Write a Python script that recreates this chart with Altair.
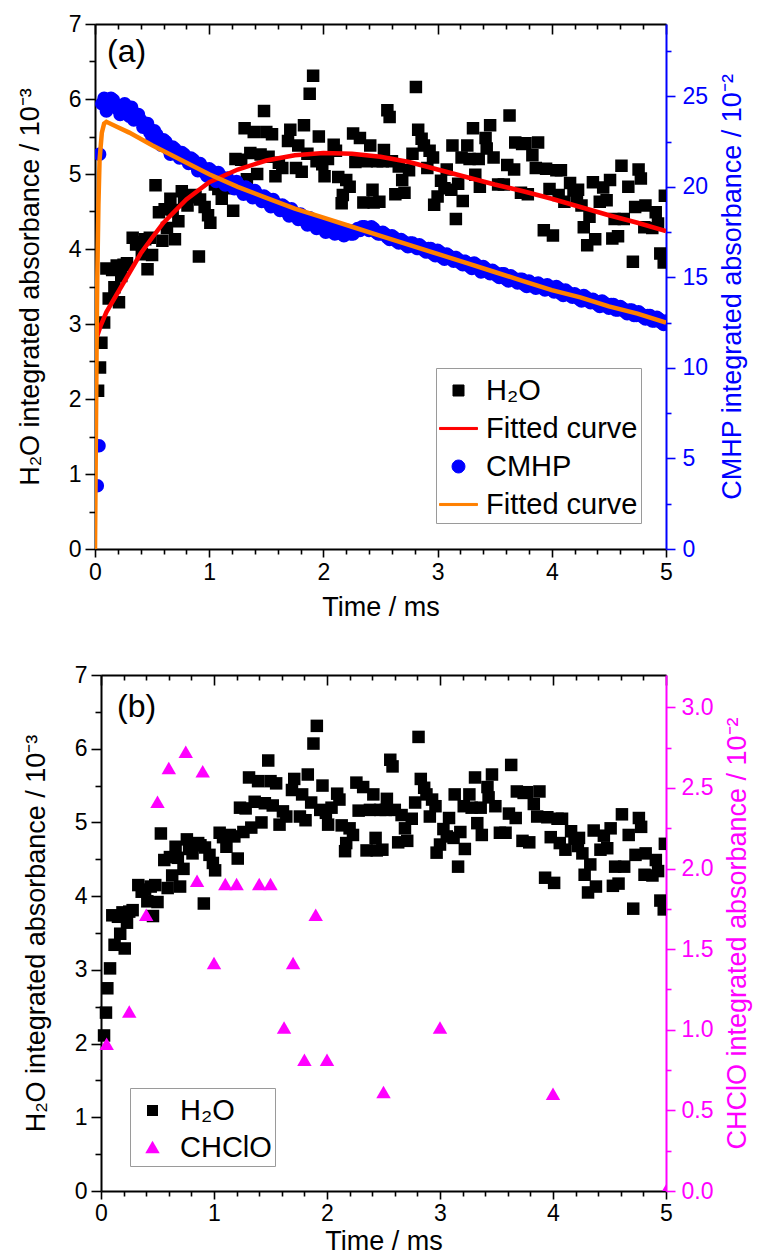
import altair as alt
import pandas as pd

# ---------------- text ----------------
time_title = "Time / ms"
h2o_title = "H₂O integrated absorbance / 10⁻³"
cmhp_title = "CMHP integrated absorbance / 10⁻²"
chclo_title = "CHClO integrated absorbance / 10⁻²"
panel_labels = ["(a)", "(b)"]

# ---------------- data ----------------
h2o_t = [0.027, 0.044, 0.056, 0.08, 0.10, 0.12, 0.15, 0.17, 0.19, 0.21, 0.23, 0.25, 0.28, 0.33, 0.36,
         0.39, 0.41, 0.44, 0.46, 0.48, 0.50, 0.53, 0.56, 0.59, 0.61, 0.63, 0.66, 0.68, 0.70, 0.73,
         0.76, 0.78, 0.81, 0.86, 0.88, 0.91, 0.92, 0.96, 0.99, 1.01, 1.05, 1.08, 1.11, 1.14, 1.18,
         1.21, 1.23, 1.26, 1.28, 1.31, 1.33, 1.36, 1.39, 1.42, 1.45, 1.48, 1.50, 1.52, 1.55, 1.58,
         1.61, 1.64, 1.69, 1.71, 1.76, 1.78, 1.81, 1.83, 1.86, 1.88, 1.91, 1.94, 1.96, 1.99, 2.01,
         2.04, 2.09, 2.11, 2.13, 2.16, 2.17, 2.20, 2.23, 2.26, 2.28, 2.32, 2.35, 2.38, 2.41, 2.43,
         2.44, 2.47, 2.49, 2.52, 2.53, 2.56, 2.58, 2.60, 2.63, 2.66, 2.69, 2.71, 2.75, 2.78, 2.81,
         2.83, 2.86, 2.88, 2.91, 2.93, 2.96, 2.97, 3.00, 3.03, 3.06, 3.08, 3.12, 3.13, 3.16, 3.18,
         3.21, 3.22, 3.26, 3.28, 3.31, 3.33, 3.36, 3.37, 3.42, 3.43, 3.46, 3.49, 3.53, 3.58, 3.61,
         3.63, 3.67, 3.68, 3.73, 3.74, 3.77, 3.79, 3.83, 3.86, 3.88, 3.93, 3.95, 3.98, 4.01, 4.04,
         4.06, 4.08, 4.11, 4.16, 4.19, 4.22, 4.23, 4.26, 4.28, 4.31, 4.33, 4.36, 4.38, 4.42, 4.45,
         4.48, 4.51, 4.53, 4.55, 4.58, 4.61, 4.63, 4.67, 4.71, 4.73, 4.76, 4.78, 4.81, 4.82, 4.88,
         4.91, 4.93, 4.95, 4.98, 4.99]
h2o_v = [2.11, 2.42, 2.75, 3.02, 3.74, 3.34, 3.72, 3.49, 3.78, 3.29, 3.64, 3.79, 3.81, 4.15, 4.06,
         4.09, 3.93, 4.13, 3.73, 4.15, 3.92, 4.85, 4.49, 4.11, 4.53, 4.28, 4.67, 4.52, 4.13, 4.37,
         4.77, 4.64, 4.58, 4.72, 4.69, 3.90, 4.66, 4.56, 4.45, 4.35, 4.86, 4.80, 4.67, 4.83, 4.81,
         4.51, 5.20, 4.87, 5.19, 5.61, 4.93, 5.28, 5.56, 5.00, 5.26, 5.84, 5.56, 5.23, 5.53, 4.97,
         5.15, 5.08, 5.44, 5.59, 5.08, 5.38, 5.03, 5.65, 5.27, 6.07, 6.31, 5.17, 5.50, 5.13, 4.97,
         5.20, 5.39, 5.31, 4.96, 4.61, 4.72, 4.92, 4.83, 5.54, 5.16, 5.48, 4.62, 5.17, 5.38, 4.79,
         4.62, 5.17, 4.63, 5.17, 5.32, 5.85, 5.76, 5.17, 4.73, 5.10, 4.92, 4.75, 5.05, 5.27, 6.16,
         5.59, 5.47, 5.38, 5.08, 5.31, 5.22, 4.59, 4.70, 4.91, 4.81, 5.06, 4.79, 5.38, 4.40, 4.87,
         5.22, 4.64, 5.38, 5.20, 5.61, 4.99, 5.20, 4.83, 5.48, 5.34, 5.65, 5.22, 4.86, 4.86, 5.12,
         5.78, 5.06, 5.42, 4.75, 5.40, 5.41, 4.73, 5.25, 5.08, 5.42, 4.25, 5.07, 4.80, 4.18, 5.05,
         4.72, 5.05, 4.63, 4.88, 4.78, 4.68, 4.79, 4.58, 4.29, 4.05, 4.43, 4.89, 4.13, 4.63, 4.82,
         4.65, 4.92, 4.14, 4.40, 4.17, 5.11, 4.40, 4.83, 3.83, 4.56, 5.06, 4.94, 4.29, 4.58, 4.28,
         4.49, 4.34, 3.94, 3.82, 4.71]

h2o_fit_t = [0.0, 0.05, 0.1, 0.2, 0.3, 0.4, 0.5, 0.6, 0.8, 1.0, 1.25, 1.5, 1.75, 2.0, 2.25, 2.5,
             2.75, 3.0, 3.25, 3.5, 3.75, 4.0, 4.25, 4.5, 4.75, 5.0]
h2o_fit_v = [2.75, 2.98, 3.16, 3.42, 3.68, 3.94, 4.15, 4.35, 4.66, 4.89, 5.06, 5.18, 5.25, 5.28,
             5.27, 5.23, 5.16, 5.06, 4.96, 4.86, 4.77, 4.67, 4.56, 4.45, 4.35, 4.24]

cmhp_t = [0.02, 0.035, 0.04, 0.08, 0.12, 0.16, 0.20, 0.24, 0.28, 0.32, 0.36, 0.40,
          0.44, 0.48, 0.52, 0.56, 0.60, 0.64, 0.68, 0.72, 0.76, 0.80,
          0.84, 0.88, 0.92, 0.96, 1.00, 1.04, 1.08, 1.12, 1.16, 1.20,
          1.24, 1.28, 1.32, 1.36, 1.40, 1.44, 1.48, 1.52, 1.56, 1.60,
          1.64, 1.68, 1.72, 1.76, 1.80, 1.84, 1.88, 1.92, 1.96, 2.00,
          2.04, 2.08, 2.12, 2.16, 2.20, 2.24, 2.28, 2.32, 2.36, 2.40,
          2.44, 2.48, 2.52, 2.56, 2.60, 2.64, 2.68, 2.72, 2.76, 2.80,
          2.84, 2.88, 2.92, 2.96, 3.00, 3.04, 3.08, 3.12, 3.16, 3.20,
          3.24, 3.28, 3.32, 3.36, 3.40, 3.44, 3.48, 3.52, 3.56, 3.60,
          3.64, 3.68, 3.72, 3.76, 3.80, 3.84, 3.88, 3.92, 3.96, 4.00,
          4.04, 4.08, 4.12, 4.16, 4.20, 4.24, 4.28, 4.32, 4.36, 4.40,
          4.44, 4.48, 4.52, 4.56, 4.60, 4.64, 4.68, 4.72, 4.76, 4.80,
          4.84, 4.88, 4.92, 4.96, 5.00,
          0.06, 0.10, 0.14, 0.18, 0.22, 0.26, 0.30, 0.34, 0.38, 0.42, 0.46, 0.50,
          0.54, 0.58, 0.62, 0.66, 0.70, 0.74, 0.78, 0.82, 0.86, 0.90, 0.94, 0.98,
          1.02, 1.06, 1.10, 1.14, 1.18, 1.22, 1.26, 1.30, 1.34, 1.38, 1.42, 1.46, 1.50,
          1.54, 1.58, 1.62, 1.66, 1.70, 1.74, 1.78, 1.82, 1.86, 1.90, 1.94, 1.98,
          2.02, 2.06, 2.10, 2.14, 2.18, 2.22, 2.26, 2.30, 2.34, 2.38, 2.42, 2.46, 2.50,
          2.54, 2.58, 2.62, 2.66, 2.70, 2.74, 2.78, 2.82, 2.86, 2.90, 2.94, 2.98,
          3.02, 3.06, 3.10, 3.14, 3.18, 3.22, 3.26, 3.30, 3.34, 3.38, 3.42, 3.46, 3.50,
          3.54, 3.58, 3.62, 3.66, 3.70, 3.74, 3.78, 3.82, 3.86, 3.90, 3.94, 3.98,
          4.02, 4.06, 4.10, 4.14, 4.18, 4.22, 4.26, 4.30, 4.34, 4.38, 4.42, 4.46, 4.50,
          4.54, 4.58, 4.62, 4.66, 4.70, 4.74, 4.78, 4.82, 4.86, 4.90, 4.94, 4.98]
cmhp_v = [3.5, 5.7, 21.8, 24.9, 24.6, 24.8, 24.3, 24.5, 24.1, 24.4, 23.8, 23.7,
          23.4, 23.0, 23.1, 22.6, 22.6, 22.1, 22.2, 21.8, 21.9, 21.5,
          21.6, 21.2, 21.3, 20.8, 21.0, 20.6, 20.8, 20.3, 20.5, 20.1,
          20.3, 19.8, 20.0, 19.6, 19.8, 19.4, 19.5, 19.1, 19.3, 18.9,
          19.0, 18.6, 18.8, 18.4, 18.5, 18.1, 18.3, 17.9, 18.0, 17.7,
          17.9, 17.5, 17.7, 17.4, 17.6, 17.4, 17.6, 17.6, 17.8, 17.6,
          17.7, 17.4, 17.5, 17.2, 17.3, 17.0, 17.1, 16.8, 16.9, 16.7,
          16.8, 16.5, 16.6, 16.3, 16.5, 16.1, 16.3, 16.0, 16.1, 15.8,
          15.9, 15.6, 15.8, 15.5, 15.6, 15.3, 15.4, 15.1, 15.2, 14.9,
          15.1, 14.8, 14.9, 14.6, 14.8, 14.5, 14.7, 14.4, 14.6, 14.3,
          14.5, 14.1, 14.3, 14.0, 14.1, 13.8, 14.0, 13.7, 13.8, 13.5,
          13.7, 13.4, 13.5, 13.2, 13.4, 13.1, 13.2, 12.9, 13.1, 12.8,
          12.9, 12.6, 12.8, 12.5, 12.6,
          24.6, 24.2, 24.9, 24.4, 24.0, 24.6, 23.9, 23.7, 24.0, 23.3, 23.5, 22.7,
          22.9, 22.3, 22.5, 21.8, 22.1, 21.6, 21.8, 21.3, 21.5, 20.9, 21.1, 20.6,
          20.9, 20.3, 20.6, 20.1, 20.3, 19.9, 20.1, 19.6, 19.9, 19.4, 19.6, 19.2, 19.4,
          18.9, 19.1, 18.7, 18.9, 18.4, 18.6, 18.2, 18.4, 17.9, 18.1, 17.7, 17.9,
          17.5, 17.8, 17.4, 17.6, 17.3, 17.6, 17.4, 17.7, 17.8, 17.7, 17.8, 17.5, 17.4,
          17.4, 17.1, 17.2, 16.9, 17.0, 16.7, 16.9, 16.6, 16.7, 16.4, 16.6, 16.2,
          16.4, 16.0, 16.2, 15.9, 16.0, 15.7, 15.8, 15.5, 15.7, 15.3, 15.5, 15.2, 15.3,
          15.0, 15.2, 14.8, 15.0, 14.7, 14.9, 14.5, 14.7, 14.4, 14.6, 14.3, 14.5,
          14.2, 14.4, 14.0, 14.2, 13.9, 14.0, 13.7, 13.9, 13.6, 13.7, 13.4, 13.6, 13.3,
          13.5, 13.2, 13.3, 13.0, 13.2, 12.9, 13.0, 12.7, 12.9, 12.6, 12.7, 12.4]

cmhp_fit_t = [0.0, 0.005, 0.01, 0.015, 0.02, 0.03, 0.04, 0.06, 0.08, 0.1, 0.2, 0.3, 0.5, 0.75,
              1.0, 1.25, 1.5, 1.75, 2.0, 2.25, 2.5, 2.75, 3.0, 3.25, 3.5, 3.75, 4.0, 4.25, 4.5,
              4.75, 5.0]
cmhp_fit_v = [0.0, 4.0, 8.0, 12.0, 15.0, 19.0, 21.5, 23.0, 23.5, 23.6, 23.3, 23.0, 22.3, 21.5,
              20.7, 20.0, 19.4, 18.8, 18.3, 17.8, 17.3, 16.8, 16.3, 15.8, 15.3, 14.8, 14.3, 13.9,
              13.4, 13.0, 12.5]

chclo_t = [0.05, 0.25, 0.4, 0.5, 0.6, 0.75, 0.85, 0.9, 1.0, 1.1, 1.2, 1.4, 1.5, 1.62, 1.7, 1.8,
           1.9, 2.0, 2.5, 3.0, 4.0, 5.0]
chclo_v = [0.91, 1.11, 1.71, 2.41, 2.62, 2.72, 1.92, 2.60, 1.41, 1.90, 1.90, 1.90, 1.90, 1.01,
           1.41, 0.81, 1.71, 0.81, 0.61, 1.01, 0.60, 0.0]

series_a = ["H₂O", "Fitted curve (H₂O)", "CMHP", "Fitted curve (CMHP)"]
series_b = ["H₂O", "CHClO"]

# ticks
x_major = [0, 1, 2, 3, 4, 5]
x_minor = [0.2, 0.4, 0.6, 0.8, 1.2, 1.4, 1.6, 1.8, 2.2, 2.4, 2.6, 2.8, 3.2, 3.4, 3.6, 3.8,
           4.2, 4.4, 4.6, 4.8]
yl_major = [0, 1, 2, 3, 4, 5, 6, 7]
yl_minor = [0.5, 1.5, 2.5, 3.5, 4.5, 5.5, 6.5]
cm_major = [0, 5, 10, 15, 20, 25]
cm_minor = [2.5, 7.5, 12.5, 17.5, 22.5, 27.5]
ch_major = [0, 0.5, 1.0, 1.5, 2.0, 2.5, 3.0]
ch_minor = [0.25, 0.75, 1.25, 1.75, 2.25, 2.75]

# ---------------- styles ----------------
FONT = "Liberation Sans"
BLACK = "#000000"
RED = "#FF0000"
BLUE = "#0000FF"
ORANGE = "#FF8000"
MAGENTA = "#FF00FF"

SQUARE = "M-0.29,-0.29H0.29V0.29H-0.29Z"
CIRCLE = "M-0.34,0A0.34,0.34 0 1,0 0.34,0A0.34,0.34 0 1,0 -0.34,0Z"
TRIANGLE = "M0,-0.36L0.38,0.30H-0.38Z"
LINE = "M-1,-0.055H1V0.055H-1Z"

LAB = 23
TIT = 27


def axis(orient, values, tick, labels=False, title=None, color=BLACK, domain=False,
         offset=0, fmt=None, ticks=True, tpad=16, lpad=4):
    kw = dict(orient=orient, values=values, tickSize=tick, tickWidth=1.6, tickColor=color,
              labels=labels, domain=domain, domainColor=color, domainWidth=2, grid=False,
              offset=offset, ticks=ticks, title=title)
    if labels:
        kw.update(labelFont=FONT, labelFontSize=LAB, labelColor=color, labelPadding=lpad,
                  labelFlush=False, labelOverlap=False)
        if fmt:
            kw["format"] = fmt
    if title:
        kw.update(titleFont=FONT, titleFontSize=TIT, titleFontWeight="normal",
                  titleColor=color, titlePadding=tpad)
        if orient == "right":
            kw.update(titleAngle=270, titleBaseline="top")
    return alt.Axis(**kw)


xs_a = alt.Scale(domain=[0, 5], nice=False, zero=False)
xs_b = alt.Scale(domain=[0, 5], range=[6, 571], nice=False, zero=False)
ys_left = alt.Scale(domain=[0, 7], nice=False, zero=False)
ys_cmhp = alt.Scale(domain=[0, 29], nice=False, zero=False)
ys_chclo = alt.Scale(domain=[0, 3.2], nice=False, zero=False)

# ---------------- panel (a) ----------------
df_h2o_a = pd.DataFrame({"t": h2o_t, "v": h2o_v, "series": series_a[0]})
df_h2o_fit = pd.DataFrame({"t": h2o_fit_t, "v": h2o_fit_v, "series": series_a[1]})
df_cmhp = pd.DataFrame({"t": cmhp_t, "v": cmhp_v, "series": series_a[2]})
df_cmhp_fit = pd.DataFrame({"t": cmhp_fit_t, "v": cmhp_fit_v, "series": series_a[3]})

color_a = alt.Scale(domain=series_a, range=[BLACK, RED, BLUE, ORANGE])
shape_a = alt.Scale(domain=series_a, range=[SQUARE, LINE, CIRCLE, LINE])
leg_a = alt.Legend(title=None, orient="none", legendX=341, legendY=344, labelFont=FONT,
                   labelFontSize=29, labelColor=BLACK,
                   labelExpr="indexof(datum.label, 'Fitted') == 0 ? 'Fitted curve' : datum.label",
                   symbolSize=1444, symbolStrokeWidth=1, strokeColor="#9A9A9A",
                   fillColor="#FFFFFF", padding=3, rowPadding=3, labelOffset=8, labelLimit=400)

h2o_a = alt.Chart(df_h2o_a).mark_point(filled=True, opacity=1, size=1858, clip=True).encode(
    x=alt.X("t:Q", scale=xs_a, axis=axis("bottom", x_major, 8, labels=True, title=time_title,
                                          domain=True, tpad=10)),
    y=alt.Y("v:Q", scale=ys_left, axis=axis("left", yl_major, 10, labels=True, title=h2o_title,
                                             domain=True, tpad=24)),
    color=alt.Color("series:N", scale=color_a, legend=leg_a),
    shape=alt.Shape("series:N", scale=shape_a, legend=leg_a),
)
cmhp_a = alt.Chart(df_cmhp).mark_point(filled=True, opacity=1, size=1576, clip=True).encode(
    x=alt.X("t:Q", scale=xs_a, axis=axis("top", x_major, 10, offset=-10)),
    y=alt.Y("v:Q", scale=ys_cmhp, axis=axis("right", cm_major, 9, labels=True, title=cmhp_title,
                                             color=BLUE, domain=True, tpad=12, lpad=7)),
    color=alt.Color("series:N", scale=color_a, legend=leg_a),
    shape=alt.Shape("series:N", scale=shape_a, legend=leg_a),
)
red_a = alt.Chart(df_h2o_fit).mark_line(strokeWidth=4.5, clip=True).encode(
    x=alt.X("t:Q", scale=xs_a, axis=axis("bottom", x_minor, 5)),
    y=alt.Y("v:Q", scale=ys_left, axis=axis("left", yl_minor, 6)),
    color=alt.Color("series:N", scale=color_a, legend=leg_a),
)
orange_a = alt.Chart(df_cmhp_fit).mark_line(strokeWidth=4.5, clip=True).encode(
    x=alt.X("t:Q", scale=xs_a, axis=axis("top", x_minor, 5, offset=-5)),
    y=alt.Y("v:Q", scale=ys_cmhp, axis=axis("right", cm_minor, 5, color=BLUE)),
    color=alt.Color("series:N", scale=color_a, legend=leg_a),
)
topline_a = alt.Chart(df_h2o_a).mark_point(opacity=0).encode(
    x=alt.X("t:Q", scale=xs_a, axis=axis("top", x_major, 0, domain=True, ticks=False)),
    y=alt.Y("v:Q", scale=ys_left, axis=None),
)
label_a = alt.Chart(pd.DataFrame({"lab": [panel_labels[0]]})).mark_text(
    font=FONT, fontSize=32, align="left", baseline="middle", color=BLACK
).encode(text="lab:N", x=alt.value(12), y=alt.value(28))

panel_a = alt.layer(h2o_a, cmhp_a, red_a, orange_a, topline_a, label_a).resolve_scale(
    y="independent").resolve_axis(x="independent", y="independent").properties(
    width=571, height=525)

# ---------------- panel (b) ----------------
df_h2o_b = pd.DataFrame({"t": h2o_t, "v": h2o_v, "series": series_b[0]})
df_chclo = pd.DataFrame({"t": chclo_t, "v": chclo_v, "series": series_b[1]})

color_b = alt.Scale(domain=series_b, range=[BLACK, MAGENTA])
shape_b = alt.Scale(domain=series_b, range=[SQUARE, TRIANGLE])
leg_b = alt.Legend(title=None, orient="none", legendX=35, legendY=413, labelFont=FONT,
                   labelFontSize=29, labelColor=BLACK, symbolSize=1444, symbolStrokeWidth=1,
                   strokeColor="#9A9A9A", fillColor="#FFFFFF", padding=3, rowPadding=2,
                   labelOffset=8, labelLimit=400)

h2o_b = alt.Chart(df_h2o_b).mark_point(filled=True, opacity=1, size=1858, clip=True).encode(
    x=alt.X("t:Q", scale=xs_b, axis=axis("bottom", x_major, 8, labels=True, title=time_title,
                                          domain=True, tpad=3, lpad=3)),
    y=alt.Y("v:Q", scale=ys_left, axis=axis("left", yl_major, 10, labels=True, title=h2o_title,
                                             domain=True, tpad=24, offset=-6)),
    color=alt.Color("series:N", scale=color_b, legend=leg_b),
    shape=alt.Shape("series:N", scale=shape_b, legend=leg_b),
)
chclo_b = alt.Chart(df_chclo).mark_point(filled=True, opacity=1, size=1444, clip=True).encode(
    x=alt.X("t:Q", scale=xs_b, axis=axis("bottom", x_minor, 5)),
    y=alt.Y("v:Q", scale=ys_chclo, axis=axis("right", ch_major, 9, labels=True,
                                              title=chclo_title, color=MAGENTA, domain=True,
                                              fmt=".1f", tpad=12, lpad=6)),
    color=alt.Color("series:N", scale=color_b, legend=leg_b),
    shape=alt.Shape("series:N", scale=shape_b, legend=leg_b),
)
hold1_b = alt.Chart(df_h2o_b).mark_point(opacity=0).encode(
    x=alt.X("t:Q", scale=xs_b, axis=axis("top", x_major, 10, offset=-10)),
    y=alt.Y("v:Q", scale=ys_left, axis=axis("left", yl_minor, 6, offset=-6)),
)
hold2_b = alt.Chart(df_chclo).mark_point(opacity=0).encode(
    x=alt.X("t:Q", scale=xs_b, axis=axis("top", x_minor, 5, offset=-5)),
    y=alt.Y("v:Q", scale=ys_chclo, axis=axis("right", ch_minor, 5, color=MAGENTA)),
)
topline_b = alt.Chart(df_h2o_b).mark_point(opacity=0).encode(
    x=alt.X("t:Q", scale=xs_b, axis=axis("top", x_major, 0, domain=True, ticks=False)),
    y=alt.Y("v:Q", scale=ys_left, axis=None),
)
label_b = alt.Chart(pd.DataFrame({"lab": [panel_labels[1]]})).mark_text(
    font=FONT, fontSize=32, align="left", baseline="middle", color=BLACK
).encode(text="lab:N", x=alt.value(22), y=alt.value(32))

panel_b = alt.layer(h2o_b, chclo_b, hold1_b, hold2_b, topline_b, label_b).resolve_scale(
    y="independent").resolve_axis(x="independent", y="independent").properties(
    width=571, height=516)

chart = alt.concat(panel_a, panel_b, columns=1, align="none", spacing=42).resolve_scale(
    color="independent", shape="independent").properties(
    padding={"left": 15, "top": 12, "right": 2, "bottom": 0}
).configure_view(stroke="transparent")

chart.save("out.html", embed_options={"renderer": "svg", "actions": False})
